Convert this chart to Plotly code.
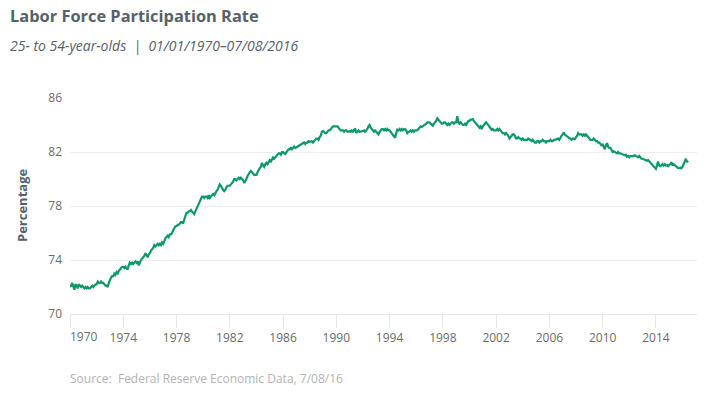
import plotly.graph_objects as go

title_text = "Labor Force Participation Rate"
subtitle_text = "25- to 54-year-olds  |  01/01/1970–07/08/2016"
source_text = "Source:  Federal Reserve Economic Data, 7/08/16"
y_title = "Percentage"

start_year = 1970
# Monthly values (Jan..Dec), one row per year
values_by_year = [
    [72.0, 72.1, 72.3, 72.0, 71.8, 72.2, 72.1, 71.9, 72.2, 72.1, 72.0, 72.1],  # 1970
    [72.0, 71.9, 72.0, 71.9, 72.0, 71.9, 71.9, 72.0, 72.1, 72.0, 72.1, 72.2],  # 1971
    [72.2, 72.4, 72.3, 72.3, 72.4, 72.3, 72.3, 72.2, 72.1, 72.1, 72.0, 72.3],  # 1972
    [72.6, 72.7, 72.8, 72.8, 73.0, 72.9, 73.1, 73.0, 73.2, 73.3, 73.4, 73.5],  # 1973
    [73.5, 73.4, 73.5, 73.4, 73.3, 73.6, 73.8, 73.7, 73.8, 73.7, 73.8, 73.9],  # 1974
    [73.8, 73.9, 73.6, 73.9, 74.0, 74.1, 74.2, 74.3, 74.5, 74.3, 74.2, 74.4],  # 1975
    [74.5, 74.7, 74.8, 74.9, 75.1, 75.0, 75.1, 75.2, 75.1, 75.2, 75.1, 75.3],  # 1976
    [75.2, 75.5, 75.6, 75.7, 75.8, 75.7, 75.9, 75.9, 76.0, 76.2, 76.4, 76.5],  # 1977
    [76.5, 76.6, 76.6, 76.7, 76.8, 76.8, 76.7, 77.0, 77.3, 77.5, 77.5, 77.6],  # 1978
    [77.6, 77.7, 77.6, 77.5, 77.4, 77.6, 77.8, 78.0, 78.2, 78.3, 78.5, 78.7],  # 1979
    [78.7, 78.6, 78.7, 78.7, 78.6, 78.8, 78.6, 78.7, 78.8, 78.9, 78.8, 79.0],  # 1980
    [79.1, 79.2, 79.4, 79.6, 79.5, 79.3, 79.2, 79.1, 79.2, 79.4, 79.5, 79.5],  # 1981
    [79.5, 79.6, 79.7, 79.8, 80.0, 80.0, 79.9, 80.0, 80.1, 80.0, 80.1, 80.0],  # 1982
    [79.9, 79.7, 79.8, 80.0, 80.2, 80.4, 80.5, 80.6, 80.5, 80.4, 80.3, 80.3],  # 1983
    [80.3, 80.5, 80.7, 80.8, 80.9, 81.2, 81.0, 80.9, 81.1, 81.2, 81.1, 81.3],  # 1984
    [81.4, 81.3, 81.5, 81.6, 81.5, 81.6, 81.7, 81.8, 81.9, 81.9, 81.8, 82.0],  # 1985
    [82.0, 81.9, 81.85, 82.0, 82.1, 82.2, 82.2, 82.3, 82.2, 82.3, 82.4, 82.3],  # 1986
    [82.35, 82.4, 82.5, 82.5, 82.6, 82.6, 82.7, 82.7, 82.6, 82.7, 82.7, 82.8],  # 1987
    [82.75, 82.8, 82.8, 82.7, 82.8, 82.9, 83.0, 83.0, 82.9, 83.1, 83.2, 83.5],  # 1988
    [83.55, 83.5, 83.4, 83.4, 83.5, 83.6, 83.6, 83.7, 83.8, 83.9, 83.9, 83.9],  # 1989
    [83.9, 83.9, 83.8, 83.7, 83.6, 83.6, 83.6, 83.5, 83.6, 83.6, 83.5, 83.5],  # 1990
    [83.55, 83.5, 83.6, 83.5, 83.6, 83.75, 83.4, 83.5, 83.6, 83.5, 83.5, 83.5],  # 1991
    [83.55, 83.6, 83.5, 83.6, 83.7, 83.9, 84.0, 83.8, 83.7, 83.6, 83.5, 83.6],  # 1992
    [83.5, 83.4, 83.3, 83.5, 83.6, 83.7, 83.7, 83.6, 83.7, 83.6, 83.7, 83.6],  # 1993
    [83.6, 83.5, 83.4, 83.3, 83.2, 83.05, 83.4, 83.65, 83.6, 83.7, 83.6, 83.7],  # 1994
    [83.6, 83.7, 83.7, 83.6, 83.4, 83.5, 83.5, 83.6, 83.5, 83.6, 83.5, 83.6],  # 1995
    [83.6, 83.6, 83.7, 83.8, 83.9, 83.85, 83.9, 84.0, 84.0, 84.1, 84.2, 84.2],  # 1996
    [84.2, 84.1, 84.0, 83.95, 84.1, 84.2, 84.3, 84.5, 84.4, 84.3, 84.2, 84.1],  # 1997
    [84.1, 84.2, 84.2, 84.1, 84.0, 84.1, 84.0, 84.1, 84.2, 84.2, 84.1, 84.2],  # 1998
    [84.2, 84.65, 84.2, 84.1, 84.2, 84.1, 84.0, 84.0, 84.1, 84.0, 84.2, 84.3],  # 1999
    [84.3, 84.4, 84.4, 84.45, 84.3, 84.2, 84.1, 84.0, 83.9, 83.8, 83.9, 83.7],  # 2000
    [83.9, 84.0, 84.1, 84.2, 84.1, 84.0, 83.9, 83.8, 83.65, 83.7, 83.6, 83.6],  # 2001
    [83.6, 83.7, 83.6, 83.7, 83.6, 83.5, 83.4, 83.4, 83.3, 83.4, 83.3, 83.2],  # 2002
    [83.0, 83.1, 83.2, 83.3, 83.3, 83.2, 83.0, 83.0, 83.1, 83.0, 83.0, 82.9],  # 2003
    [83.0, 82.9, 82.9, 82.9, 82.9, 83.0, 82.95, 82.9, 82.8, 82.9, 82.8, 82.7],  # 2004
    [82.7, 82.8, 82.8, 82.7, 82.8, 82.8, 82.9, 82.8, 82.8, 82.7, 82.8, 82.8],  # 2005
    [82.8, 82.9, 82.8, 82.8, 82.9, 82.9, 82.95, 83.0, 83.0, 82.9, 83.1, 83.2],  # 2006
    [83.3, 83.45, 83.3, 83.2, 83.15, 83.1, 83.0, 83.0, 82.9, 83.0, 82.95, 82.95],  # 2007
    [83.1, 83.2, 83.4, 83.3, 83.3, 83.3, 83.2, 83.3, 83.2, 83.3, 83.2, 83.1],  # 2008
    [83.0, 82.9, 82.9, 82.9, 83.0, 82.9, 82.8, 82.8, 82.7, 82.7, 82.6, 82.5],  # 2009
    [82.55, 82.4, 82.2, 82.5, 82.65, 82.4, 82.3, 82.3, 82.1, 82.0, 82.05, 82.0],  # 2010
    [81.95, 81.9, 82.0, 81.9, 81.9, 81.85, 81.8, 81.8, 81.75, 81.8, 81.65, 81.7],  # 2011
    [81.6, 81.7, 81.7, 81.65, 81.7, 81.75, 81.7, 81.6, 81.6, 81.7, 81.6, 81.5],  # 2012
    [81.5, 81.45, 81.4, 81.4, 81.35, 81.4, 81.3, 81.2, 81.1, 81.0, 80.9, 80.85],  # 2013
    [80.75, 81.0, 81.3, 81.0, 80.95, 81.0, 81.1, 81.0, 81.1, 81.0, 81.05, 80.95],  # 2014
    [81.0, 81.1, 81.25, 81.0, 81.1, 81.0, 80.95, 80.9, 80.8, 80.8, 80.85, 80.8],  # 2015
    [80.9, 81.1, 81.3, 81.5, 81.25, 81.35],  # 2016
]

tick_years = [1970, 1974, 1978, 1982, 1986, 1990, 1994, 1998, 2002, 2006, 2010, 2014]
y_ticks = [70, 74, 78, 82, 86]

dates, values = [], []
for i, row in enumerate(values_by_year):
    for m, v in enumerate(row):
        dates.append(f"{start_year + i}-{m + 1:02d}-01")
        values.append(v)

tick_vals = [f"{y}-01-01" for y in tick_years]
tick_text = ["" if y == tick_years[0] else str(y) for y in tick_years]

LINE = "#0b9a66"
DARK = "#566169"
TICK = "#6b6b6b"
GRID = "#eeeeee"

fig = go.Figure()
fig.add_trace(go.Scatter(
    x=dates, y=values, mode="lines",
    line=dict(color=LINE, width=2.2),
    hoverinfo="x+y", showlegend=False,
))

fig.update_layout(
    width=708, height=394,
    margin=dict(l=70, r=11, t=98, b=80),
    paper_bgcolor="white", plot_bgcolor="white",
    font=dict(family="Open Sans", color=TICK, size=12),
    xaxis=dict(
        type="date", automargin=False,
        range=["1970-01-01", "2017-02-01"],
        tickvals=tick_vals, ticktext=tick_text,
        showgrid=False, zeroline=False,
        showline=True, linecolor="#e6e6e6", linewidth=1,
        ticks="outside", ticklen=13, tickcolor="#e6e6e6", tickwidth=1,
        tickfont=dict(family="Open Sans", size=12, color=TICK),
    ),
    yaxis=dict(
        range=[70, 86], automargin=False,
        tickvals=y_ticks,
        showgrid=True, gridcolor=GRID, gridwidth=1,
        zeroline=False, showline=False,
        ticks="", ticklabelstandoff=7,
        tickfont=dict(family="Open Sans", size=12, color=TICK),
    ),
    annotations=[
        dict(text=title_text, xref="paper", yref="paper", x=0, y=1,
             xanchor="left", yanchor="middle", showarrow=False,
             xshift=-62, yshift=83,
             font=dict(family="Open Sans", size=16.4, color=DARK, weight="bold")),
        dict(text=subtitle_text, xref="paper", yref="paper", x=0, y=1,
             xanchor="left", yanchor="middle", showarrow=False,
             xshift=-62, yshift=53,
             font=dict(family="Open Sans", size=14, color=DARK, style="italic")),
        dict(text=y_title, xref="paper", yref="paper", x=0, y=0.5,
             xanchor="center", yanchor="middle", showarrow=False,
             textangle=-90, xshift=-48,
             font=dict(family="Open Sans", size=13, color=DARK, weight="bold")),
        dict(text=source_text, xref="paper", yref="paper", x=0, y=0,
             xanchor="left", yanchor="middle", showarrow=False,
             xshift=-2, yshift=-64,
             font=dict(family="Open Sans", size=12, color="#b3b3b3")),
        dict(text=str(tick_years[0]), xref="x", yref="paper", x=tick_vals[0], y=0,
             xanchor="left", yanchor="top", showarrow=False,
             xshift=-2, yshift=-12,
             font=dict(family="Open Sans", size=12, color=TICK)),
    ],
)

fig.write_html("out.html", config={"displayModeBar": False},
               post_script="document.body.style.margin='0';")
